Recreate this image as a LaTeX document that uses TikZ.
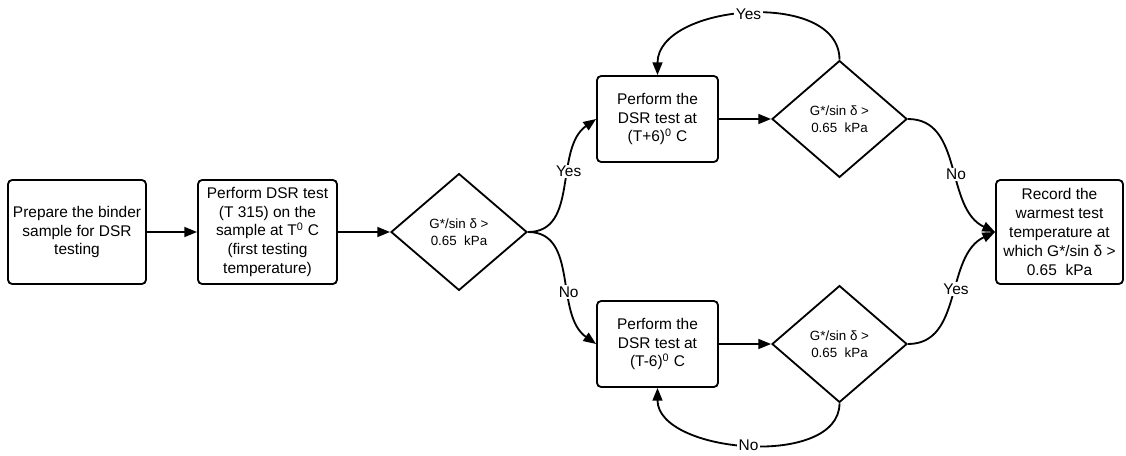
\documentclass[tikz,border=0pt]{standalone}
\usepackage{fontspec}
\setmainfont{Liberation Sans}
\usetikzlibrary{arrows.meta, shapes.geometric}

\begin{document}
\begin{tikzpicture}[
    x=0.025cm, y=-0.025cm,
    line width=1.3pt,
    stepbox/.style={draw, rounded corners=3pt, align=center, inner sep=2pt,
                    font=\fontsize{11}{13.5}\selectfont},
    decide/.style={draw, diamond, align=center, inner sep=0pt,
                   minimum width=3.4cm, minimum height=2.92cm,
                   font=\fontsize{9.5}{12}\selectfont},
    flow/.style={-{Triangle[length=9pt, width=7pt]}},
    lbl/.style={fill=white, inner sep=1pt, font=\fontsize{11}{12}\selectfont},
]
    \useasboundingbox (0,0) rectangle (1126,455);

    % main line
    \node[stepbox, minimum width=3.45cm, minimum height=2.6cm] (prep) at (77,232)
        {Prepare the binder\\sample for DSR\\testing};
    \node[stepbox, minimum width=3.475cm, minimum height=2.6cm] (dsr) at (267.5,232)
        {Perform DSR test\\(T 315) on the\\sample at T\textsuperscript{0} C\\(first testing\\temperature)};
    \node[decide] (check) at (459,232) {G*/sin δ >\\0.65\ \ kPa};

    % warmer / colder branches
    \node[stepbox, minimum width=3.025cm, minimum height=2.15cm] (up) at (657.5,119)
        {Perform the\\DSR test at\\(T+6)\textsuperscript{0} C};
    \node[decide, minimum width=3.375cm] (checkup) at (839.5,119) {G*/sin δ >\\0.65\ \ kPa};
    \node[stepbox, minimum width=3.025cm, minimum height=2.15cm] (down) at (657.5,344)
        {Perform the\\DSR test at\\(T-6)\textsuperscript{0} C};
    \node[decide, minimum width=3.375cm] (checkdown) at (839.5,344) {G*/sin δ >\\0.65\ \ kPa};

    \node[stepbox, minimum width=3.175cm, minimum height=2.6cm] (record) at (1059.5,232)
        {Record the\\warmest test\\temperature at\\which G*/sin δ >\\0.65\ \ kPa};

    \draw[flow] (prep.east) -- (dsr.west);
    \draw[flow] (dsr.east) -- (check.west);
    \draw[flow] (check.east) to[out=0, in=215] node[lbl, pos=0.6] {Yes} (up.west);
    \draw[flow] (check.east) to[out=0, in=145] node[lbl, pos=0.6] {No} (down.west);
    \draw[flow] (up.east) -- (checkup.west);
    \draw[flow] (down.east) -- (checkdown.west);

    % loops back
    \draw[flow] (checkup.north) to[out=90, in=90] node[lbl] {Yes} (up.north);
    \draw[flow] (checkdown.south) to[out=-90, in=-90, looseness=0.92] node[lbl] {No} (down.south);

    \draw[flow] (checkup.east) to[out=0, in=155] node[lbl, pos=0.55] {No} (record.west);
    \draw[flow] (checkdown.east) to[out=0, in=205] node[lbl, pos=0.55] {Yes} (record.west);
\end{tikzpicture}
\end{document}
